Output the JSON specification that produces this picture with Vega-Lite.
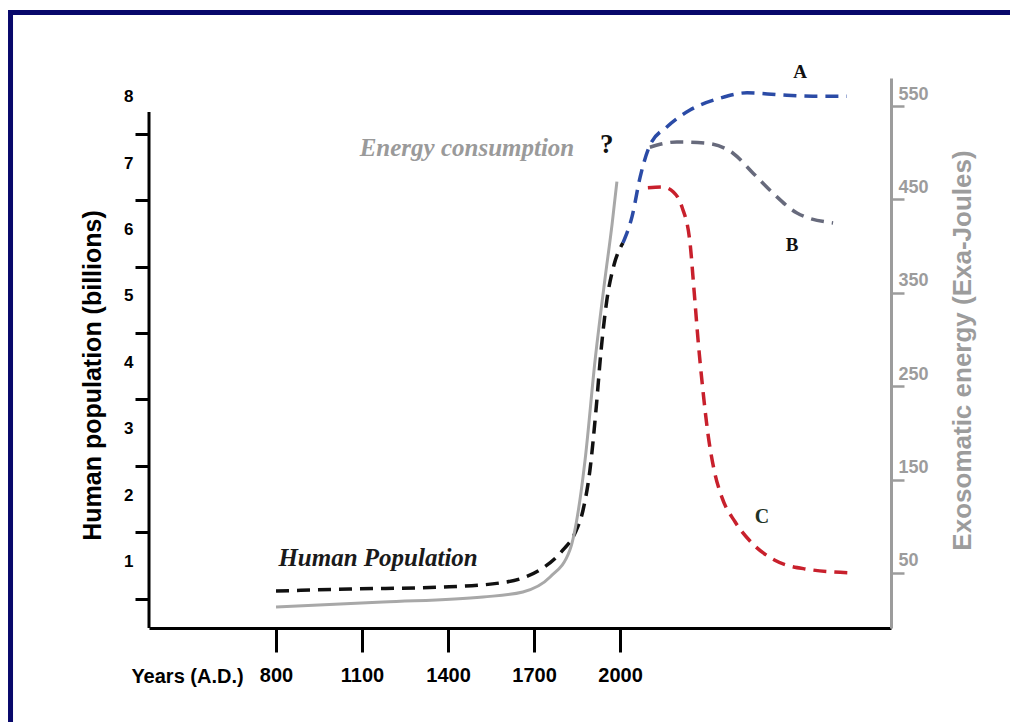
{
  "$schema": "https://vega.github.io/schema/vega-lite/v6.json",
  "width": 742,
  "height": 550,
  "autosize": "none",
  "padding": {"left": 149, "top": 78, "right": 119, "bottom": 94},
  "background": "white",
  "config": {"view": {"stroke": null}, "font": "Liberation Sans"},
  "datasets": {
    "pop": [
      {"s": "pop", "year": 800, "v": 0.557},
      {"s": "pop", "year": 1058, "v": 0.587},
      {"s": "pop", "year": 1382, "v": 0.617},
      {"s": "pop", "year": 1581, "v": 0.678},
      {"s": "pop", "year": 1661, "v": 0.753},
      {"s": "pop", "year": 1731, "v": 0.904},
      {"s": "pop", "year": 1801, "v": 1.175},
      {"s": "pop", "year": 1843, "v": 1.431},
      {"s": "pop", "year": 1871, "v": 1.777},
      {"s": "pop", "year": 1895, "v": 2.38},
      {"s": "pop", "year": 1916, "v": 3.28},
      {"s": "pop", "year": 1934, "v": 4.19},
      {"s": "pop", "year": 1954, "v": 4.94},
      {"s": "pop", "year": 1979, "v": 5.47},
      {"s": "pop", "year": 2010, "v": 5.8},
      {"s": "A", "year": 2010, "v": 5.8},
      {"s": "A", "year": 2042, "v": 6.2},
      {"s": "A", "year": 2070, "v": 6.79},
      {"s": "A", "year": 2104, "v": 7.27},
      {"s": "A", "year": 2164, "v": 7.55},
      {"s": "A", "year": 2244, "v": 7.8},
      {"s": "A", "year": 2349, "v": 7.98},
      {"s": "A", "year": 2443, "v": 8.06},
      {"s": "A", "year": 2558, "v": 8.03},
      {"s": "A", "year": 2673, "v": 8.01},
      {"s": "A", "year": 2791, "v": 8.01},
      {"s": "B", "year": 2104, "v": 7.24},
      {"s": "B", "year": 2198, "v": 7.32},
      {"s": "B", "year": 2303, "v": 7.3},
      {"s": "B", "year": 2394, "v": 7.15},
      {"s": "B", "year": 2464, "v": 6.85},
      {"s": "B", "year": 2533, "v": 6.55},
      {"s": "B", "year": 2617, "v": 6.25},
      {"s": "B", "year": 2743, "v": 6.1},
      {"s": "C", "year": 2097, "v": 6.63},
      {"s": "C", "year": 2150, "v": 6.64},
      {"s": "C", "year": 2185, "v": 6.57},
      {"s": "C", "year": 2216, "v": 6.34},
      {"s": "C", "year": 2244, "v": 5.8},
      {"s": "C", "year": 2258, "v": 5.09},
      {"s": "C", "year": 2272, "v": 4.34},
      {"s": "C", "year": 2289, "v": 3.58},
      {"s": "C", "year": 2307, "v": 2.91},
      {"s": "C", "year": 2328, "v": 2.38},
      {"s": "C", "year": 2355, "v": 1.97},
      {"s": "C", "year": 2401, "v": 1.6},
      {"s": "C", "year": 2460, "v": 1.28},
      {"s": "C", "year": 2540, "v": 1.02},
      {"s": "C", "year": 2645, "v": 0.89},
      {"s": "C", "year": 2812, "v": 0.83}
    ],
    "energy": [
      {"year": 800, "e": 13.5},
      {"year": 1173, "e": 18.8},
      {"year": 1522, "e": 24.2},
      {"year": 1661, "e": 29.6},
      {"year": 1756, "e": 45.6},
      {"year": 1825, "e": 74.5},
      {"year": 1860, "e": 128},
      {"year": 1878, "e": 171},
      {"year": 1913, "e": 278},
      {"year": 1947, "e": 364},
      {"year": 1972, "e": 423},
      {"year": 1989, "e": 469}
    ],
    "labels": [
      {"label": "Energy consumption", "year": 1466, "v": 7.23},
      {"label": "?", "year": 1954, "v": 7.27},
      {"label": "A", "year": 2628, "v": 8.37},
      {"label": "B", "year": 2600, "v": 5.77},
      {"label": "C", "year": 2495, "v": 1.67},
      {"label": "Human Population", "year": 1156, "v": 1.05}
    ],
    "frame": [{"x1": -126, "x2": 3420, "y1": -1.6, "y2": 9.27}],
    "leftaxis": [{"year": 357, "y1": 0, "y2": 7.77}]
  },
  "layer": [
    {
      "layer": [
        {
          "data": {"name": "pop"},
          "mark": {"type": "line", "strokeWidth": 3.5, "strokeDash": [13, 8], "interpolate": "monotone"},
          "encoding": {
            "x": {
              "field": "year", "type": "quantitative",
              "scale": {"domain": [357, 2945], "nice": false, "zero": false},
              "axis": {
                "values": [800, 1100, 1400, 1700, 2000], "format": "d", "grid": false,
                "domainColor": "black", "domainWidth": 3, "tickColor": "black", "tickWidth": 3, "tickSize": 24,
                "labelFont": "Liberation Sans", "labelFontWeight": "bold", "labelFontSize": 20, "labelColor": "black",
                "labelPadding": 13, "labelFlush": false,
                "title": "Years (A.D.)", "titleFont": "Liberation Sans", "titleFontWeight": "bold", "titleFontSize": 20,
                "titleColor": "black", "titleX": 38, "titleY": 48, "titleAlign": "center", "titleBaseline": "middle"
              }
            },
            "y": {
              "field": "v", "type": "quantitative",
              "scale": {"domain": [0, 8.283], "nice": false, "zero": false},
              "axis": {
                "orient": "left", "values": [1, 2, 3, 4, 5, 6, 7, 8], "format": "d", "grid": false, "domain": false,
                "tickColor": "black", "tickWidth": 3, "tickSize": 14, "tickOffset": 37, "labelOffset": -37,
                "labelFont": "Liberation Sans", "labelFontWeight": "bold", "labelFontSize": 17, "labelColor": "black",
                "labelPadding": 2,
                "title": "Human population (billions)", "titleFont": "Liberation Sans", "titleFontWeight": "bold",
                "titleFontSize": 25, "titleColor": "black", "titleAngle": -90, "titleX": -57, "titleY": 297,
                "titleAlign": "center", "titleBaseline": "middle"
              }
            },
            "color": {
              "field": "s", "type": "nominal",
              "scale": {"domain": ["pop", "A", "B", "C"], "range": ["#111111", "#2b4ba6", "#676a7c", "#c8202c"]},
              "legend": null
            },
            "detail": {"field": "s"}
          }
        },
        {
          "data": {"name": "frame"},
          "mark": {"type": "rect", "fill": null, "fillOpacity": 0, "stroke": "#08086b", "strokeWidth": 5, "clip": false},
          "encoding": {
            "x": {"field": "x1", "type": "quantitative", "scale": {"domain": [357, 2945], "nice": false, "zero": false}},
            "x2": {"field": "x2"},
            "y": {"field": "y1", "type": "quantitative", "scale": {"domain": [0, 8.283], "nice": false, "zero": false}},
            "y2": {"field": "y2"}
          }
        },
        {
          "data": {"name": "leftaxis"},
          "mark": {"type": "rule", "color": "black", "strokeWidth": 3},
          "encoding": {
            "x": {"field": "year", "type": "quantitative", "scale": {"domain": [357, 2945], "nice": false, "zero": false}},
            "y": {"field": "y1", "type": "quantitative", "scale": {"domain": [0, 8.283], "nice": false, "zero": false}},
            "y2": {"field": "y2"}
          }
        },
        {
          "data": {"name": "labels"},
          "transform": [{"filter": "datum.label == 'Energy consumption'"}],
          "mark": {"type": "text", "font": "Liberation Serif", "fontStyle": "italic", "fontWeight": "bold", "fontSize": 25, "color": "#9a9a9a", "align": "center", "baseline": "middle"},
          "encoding": {
            "x": {"field": "year", "type": "quantitative", "scale": {"domain": [357, 2945], "nice": false, "zero": false}},
            "y": {"field": "v", "type": "quantitative", "scale": {"domain": [0, 8.283], "nice": false, "zero": false}},
            "text": {"field": "label"}
          }
        },
        {
          "data": {"name": "labels"},
          "transform": [{"filter": "datum.label == 'Human Population'"}],
          "mark": {"type": "text", "font": "Liberation Serif", "fontStyle": "italic", "fontWeight": "bold", "fontSize": 25, "color": "#1a1a1a", "align": "center", "baseline": "middle"},
          "encoding": {
            "x": {"field": "year", "type": "quantitative", "scale": {"domain": [357, 2945], "nice": false, "zero": false}},
            "y": {"field": "v", "type": "quantitative", "scale": {"domain": [0, 8.283], "nice": false, "zero": false}},
            "text": {"field": "label"}
          }
        },
        {
          "data": {"name": "labels"},
          "transform": [{"filter": "datum.label == '?'"}],
          "mark": {"type": "text", "font": "Liberation Serif", "fontWeight": "bold", "fontSize": 27, "color": "#111111", "align": "center", "baseline": "middle"},
          "encoding": {
            "x": {"field": "year", "type": "quantitative", "scale": {"domain": [357, 2945], "nice": false, "zero": false}},
            "y": {"field": "v", "type": "quantitative", "scale": {"domain": [0, 8.283], "nice": false, "zero": false}},
            "text": {"field": "label"}
          }
        },
        {
          "data": {"name": "labels"},
          "transform": [{"filter": "datum.label == 'A' || datum.label == 'B'"}],
          "mark": {"type": "text", "font": "Liberation Serif", "fontWeight": "bold", "fontSize": 19, "color": "#111111", "align": "center", "baseline": "middle"},
          "encoding": {
            "x": {"field": "year", "type": "quantitative", "scale": {"domain": [357, 2945], "nice": false, "zero": false}},
            "y": {"field": "v", "type": "quantitative", "scale": {"domain": [0, 8.283], "nice": false, "zero": false}},
            "text": {"field": "label"}
          }
        },
        {
          "data": {"name": "labels"},
          "transform": [{"filter": "datum.label == 'C'"}],
          "mark": {"type": "text", "font": "Liberation Serif", "fontWeight": "bold", "fontSize": 20, "color": "#1f3326", "align": "center", "baseline": "middle"},
          "encoding": {
            "x": {"field": "year", "type": "quantitative", "scale": {"domain": [357, 2945], "nice": false, "zero": false}},
            "y": {"field": "v", "type": "quantitative", "scale": {"domain": [0, 8.283], "nice": false, "zero": false}},
            "text": {"field": "label"}
          }
        }
      ]
    },
    {
      "data": {"name": "energy"},
      "mark": {"type": "line", "color": "#a8a8a8", "strokeWidth": 3, "interpolate": "monotone"},
      "encoding": {
        "x": {"field": "year", "type": "quantitative", "scale": {"domain": [357, 2945], "nice": false, "zero": false}},
        "y": {
          "field": "e", "type": "quantitative",
          "scale": {"domain": [-9, 580], "nice": false, "zero": false},
          "axis": {
            "orient": "right", "values": [50, 150, 250, 350, 450, 550], "grid": false,
            "domainColor": "#9c9c9c", "domainWidth": 3, "tickColor": "#9c9c9c", "tickWidth": 2.5, "tickSize": 13,
            "labelFont": "Liberation Sans", "labelFontWeight": "bold", "labelFontSize": 18, "labelColor": "#9c9c9c",
            "labelOffset": -12, "labelPadding": -6, "labelAlign": "left",
            "title": "Exosomatic energy (Exa-Joules)", "titleFont": "Liberation Sans", "titleFontWeight": "bold",
            "titleFontSize": 26, "titleColor": "#9c9c9c", "titleAngle": -90, "titleX": 71, "titleY": 272,
            "titleAlign": "center", "titleBaseline": "middle"
          }
        }
      }
    }
  ],
  "resolve": {"scale": {"y": "independent"}, "axis": {"y": "independent"}}
}
